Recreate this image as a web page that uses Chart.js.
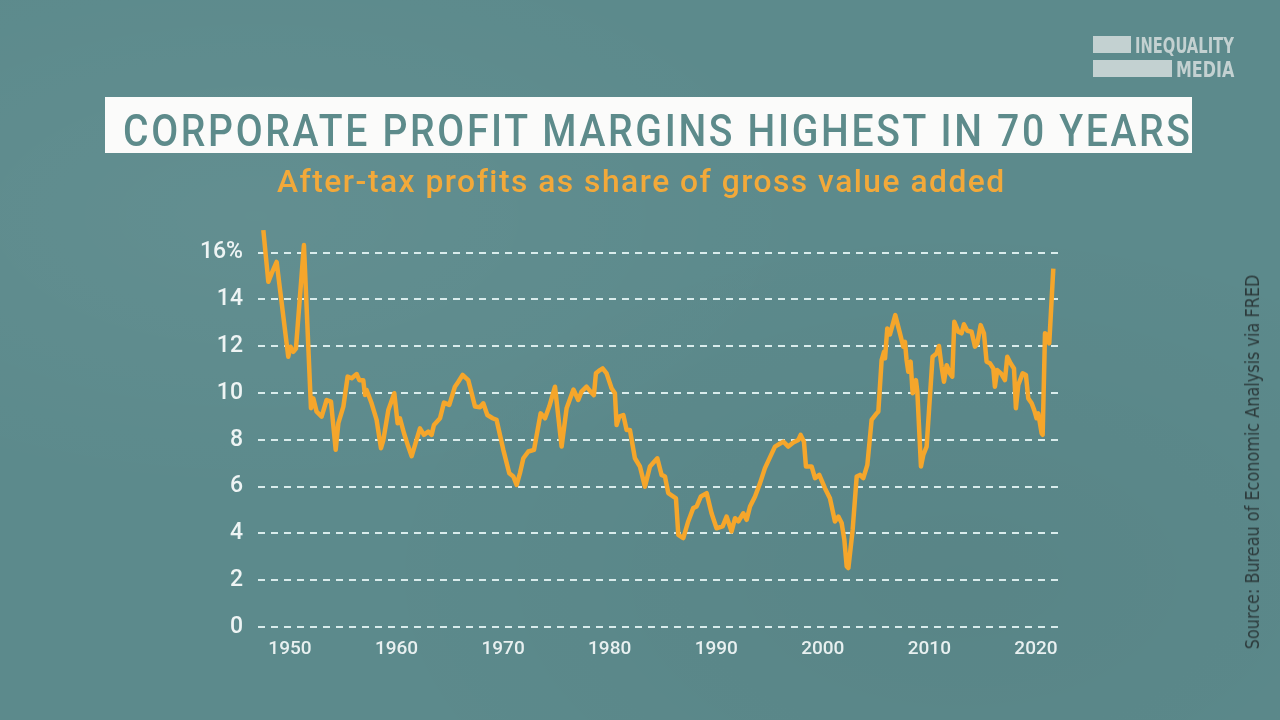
<!DOCTYPE html>
<html>
<head>
<meta charset="utf-8">
<script src="https://cdn.jsdelivr.net/npm/chart.js@4.4.1/dist/chart.umd.min.js"></script>
<style>
  body { margin: 0; }
  #wrap {
    position: relative; width: 1280px; height: 720px; overflow: hidden;
    background:
      radial-gradient(ellipse at 20% 30%, rgba(255,255,255,0.04), rgba(255,255,255,0) 40%),
      radial-gradient(ellipse at 75% 80%, rgba(0,0,0,0.04), rgba(0,0,0,0) 45%),
      #5c8a8c;
  }
  #chart { position: absolute; left: 0; top: 0; }
  .fit { position: absolute; white-space: nowrap; transform-origin: 0 0; line-height: 1; }
  #titlebox { position: absolute; left: 105px; top: 97px; width: 1087px; height: 56px; background: #fbfbfa; }
  #title { left: 123px; top: 105px; font: 500 44px Roboto, sans-serif; color: #5d8b8b; letter-spacing: 3px; }
  #subtitle { left: 277px; top: 162px; font: 500 32px Roboto, sans-serif; color: #f2a93a; letter-spacing: 1.5px; }
  .bar { position: absolute; background: #c3d1d1; }
  .logo { font: bold 22px "DejaVu Sans Condensed", Roboto, sans-serif; color: #c3d1d1; }
  #source { position: absolute; left: 1252px; top: 462px; white-space: nowrap; line-height: 1;
    font: 20px "DejaVu Sans Condensed", Roboto, sans-serif; color: #2c3a3b;
    transform-origin: 0 0; }
</style>
</head>
<body>
<div id="wrap">
  <canvas id="chart" width="1280" height="720"></canvas>
  <div id="titlebox"></div>
  <div id="title" class="fit" data-w="1070">CORPORATE PROFIT MARGINS HIGHEST IN 70 YEARS</div>
  <div id="subtitle" class="fit" data-w="729">After-tax profits as share of gross value added</div>
  <div class="bar" style="left:1093px;top:36px;width:38px;height:17px"></div>
  <div class="bar" style="left:1093px;top:60px;width:79px;height:17px"></div>
  <div class="fit logo" data-w="99" style="left:1135px;top:33px">INEQUALITY</div>
  <div class="fit logo" data-w="58" style="left:1176px;top:57px">MEDIA</div>
  <div id="source">Source: Bureau of Economic Analysis via FRED</div>
</div>
<script>
// after-tax corporate profits as % of gross value added
var years = [
  1947.50, 1947.97, 1948.28, 1948.75, 1949.84, 1950.06, 1950.31, 1950.56, 1951.31, 1951.97,
  1952.19, 1952.50, 1952.97, 1953.44, 1953.85, 1954.29, 1954.54, 1955.01, 1955.41, 1955.79,
  1956.26, 1956.51, 1956.88, 1957.04, 1957.19, 1957.66, 1958.13, 1958.54, 1958.76, 1959.23,
  1959.79, 1960.10, 1960.32, 1960.70, 1961.10, 1961.42, 1962.20, 1962.57, 1962.98, 1963.29,
  1963.51, 1964.08, 1964.45, 1964.95, 1965.48, 1965.80, 1966.20, 1966.73, 1967.05, 1967.36,
  1967.83, 1968.14, 1968.52, 1969.02, 1969.39, 1970.02, 1970.58, 1970.96, 1971.27, 1971.58,
  1971.90, 1972.37, 1972.90, 1973.52, 1973.93, 1974.33, 1974.87, 1975.49, 1975.96, 1976.60,
  1977.05, 1977.36, 1977.83, 1978.21, 1978.52, 1978.71, 1979.09, 1979.34, 1979.71, 1980.18,
  1980.49, 1980.65, 1980.90, 1981.28, 1981.59, 1981.90, 1982.37, 1982.84, 1983.31, 1983.78,
  1984.47, 1984.87, 1985.19, 1985.50, 1986.22, 1986.44, 1986.91, 1987.37, 1987.84, 1988.16,
  1988.56, 1989.10, 1989.56, 1990.03, 1990.60, 1990.97, 1991.44, 1991.76, 1992.07, 1992.54,
  1992.85, 1993.17, 1993.64, 1994.11, 1994.57, 1995.04, 1995.51, 1995.92, 1996.30, 1996.76,
  1997.23, 1997.70, 1997.92, 1998.23, 1998.42, 1998.95, 1999.27, 1999.67, 2000.20, 2000.67,
  2001.14, 2001.46, 2001.77, 2002.02, 2002.24, 2002.40, 2002.80, 2003.18, 2003.49, 2003.80,
  2004.18, 2004.58, 2005.05, 2005.21, 2005.52, 2005.74, 2005.84, 2006.05, 2006.30, 2006.80,
  2007.24, 2007.55, 2007.71, 2007.86, 2008.02, 2008.24, 2008.43, 2008.74, 2008.87, 2009.21,
  2009.43, 2009.74, 2010.30, 2010.68, 2010.90, 2011.15, 2011.37, 2011.62, 2011.93, 2012.15,
  2012.34, 2012.71, 2013.02, 2013.24, 2013.56, 2013.96, 2014.28, 2014.50, 2014.81, 2015.12,
  2015.37, 2015.68, 2016.00, 2016.15, 2016.37, 2016.72, 2017.09, 2017.31, 2017.62, 2017.94,
  2018.12, 2018.34, 2018.75, 2019.06, 2019.28, 2019.60, 2019.84, 2020.06, 2020.22, 2020.53,
  2020.63, 2020.85, 2021.06, 2021.25, 2021.63
];
var margins = [
  16.96, 14.75, 15.11, 15.60, 11.55, 11.98, 11.76, 11.90, 16.32, 9.35,
  9.77, 9.20, 8.99, 9.70, 9.63, 7.57, 8.71, 9.42, 10.70, 10.63,
  10.81, 10.55, 10.55, 9.91, 10.13, 9.56, 8.85, 7.64, 7.99, 9.27,
  9.99, 8.71, 8.92, 8.28, 7.71, 7.30, 8.49, 8.21, 8.35, 8.21,
  8.63, 8.92, 9.59, 9.49, 10.27, 10.48, 10.77, 10.55, 9.99, 9.42,
  9.39, 9.56, 9.06, 8.92, 8.85, 7.57, 6.57, 6.43, 6.07, 6.57,
  7.21, 7.50, 7.57, 9.13, 8.92, 9.42, 10.27, 7.71, 9.35, 10.15,
  9.70, 10.06, 10.27, 10.06, 9.91, 10.84, 10.98, 11.05, 10.84, 10.20,
  9.99, 8.63, 8.99, 9.06, 8.42, 8.42, 7.21, 6.86, 6.00, 6.86,
  7.21, 6.50, 6.43, 5.72, 5.50, 3.94, 3.80, 4.51, 5.08, 5.15,
  5.58, 5.72, 4.86, 4.22, 4.30, 4.72, 4.08, 4.65, 4.51, 4.86,
  4.58, 5.15, 5.58, 6.15, 6.79, 7.25, 7.71, 7.82, 7.92, 7.71,
  7.88, 7.99, 8.21, 7.92, 6.86, 6.86, 6.36, 6.50, 5.93, 5.50,
  4.51, 4.72, 4.44, 3.73, 2.59, 2.52, 4.15, 6.43, 6.50, 6.36,
  6.93, 8.85, 9.13, 9.20, 11.41, 11.76, 11.48, 12.76, 12.50, 13.33,
  12.55, 11.98, 12.19, 11.41, 10.91, 11.34, 9.99, 10.55, 10.06, 6.86,
  7.35, 7.71, 11.55, 11.69, 12.01, 11.12, 10.48, 11.19, 10.84, 10.70,
  13.04, 12.62, 12.55, 12.94, 12.66, 12.62, 11.98, 12.12, 12.90, 12.55,
  11.34, 11.27, 11.05, 10.27, 10.98, 10.84, 10.55, 11.55, 11.27, 11.05,
  9.35, 10.34, 10.84, 10.77, 9.77, 9.56, 9.27, 8.92, 9.13, 8.28,
  8.21, 12.55, 12.47, 12.12, 15.32
];
var xTickYears = [1950, 1960, 1970, 1980, 1990, 2000, 2010, 2020];
var yTickValues = [0, 2, 4, 6, 8, 10, 12, 14, 16];

var tickFont = 'Roboto, sans-serif';

var points = years.map(function (yr, i) { return { x: yr, y: margins[i] }; });

new Chart(document.getElementById('chart'), {
  type: 'line',
  data: {
    datasets: [{
      data: points,
      borderColor: '#f5a62b',
      borderWidth: 4.5,
      pointRadius: 0,
      tension: 0,
      borderJoinStyle: 'round',
      clip: false
    }]
  },
  options: {
    responsive: false,
    animation: false,
    layout: { padding: { top: 252.6, right: 222, bottom: 0, left: 0 } },
    plugins: { legend: { display: false }, tooltip: { enabled: false } },
    scales: {
      x: {
        type: 'linear',
        min: 1947,
        max: 2022.07,
        afterBuildTicks: function (s) { s.ticks = xTickYears.map(function (v) { return { value: v }; }); },
        afterFit: function (s) { s.height = 93; },
        grid: { display: false, drawTicks: false },
        border: { display: false },
        ticks: {
          color: '#e8f0f0',
          font: { family: tickFont, size: 19, weight: '500' },
          padding: 11,
          maxRotation: 0,
          autoSkip: false,
          callback: function (v) { return String(v); }
        }
      },
      y: {
        min: 0,
        max: 16,
        afterBuildTicks: function (s) { s.ticks = yTickValues.map(function (v) { return { value: v }; }); },
        afterFit: function (s) { s.width = 258; },
        grid: { color: '#d9ecec', lineWidth: 2, drawTicks: false },
        border: { display: false, dash: [7, 6] },
        ticks: {
          color: '#eef4f4',
          font: { family: tickFont, size: 23, weight: '500' },
          padding: 15,
          callback: function (v) { return v === 16 ? '16%' : String(v); }
        }
      }
    }
  }
});

// squeeze the HTML texts to the widths they have in the picture
document.querySelectorAll('.fit').forEach(function (el) {
  var s = parseFloat(el.dataset.w) / el.offsetWidth;
  el.style.transform = 'scaleX(' + s + ')';
});
var src = document.getElementById('source');
var ss = 375 / src.offsetWidth;
src.style.transform = 'rotate(-90deg) scaleX(' + ss + ') translate(-50%, -50%)';
</script>
</body>
</html>
